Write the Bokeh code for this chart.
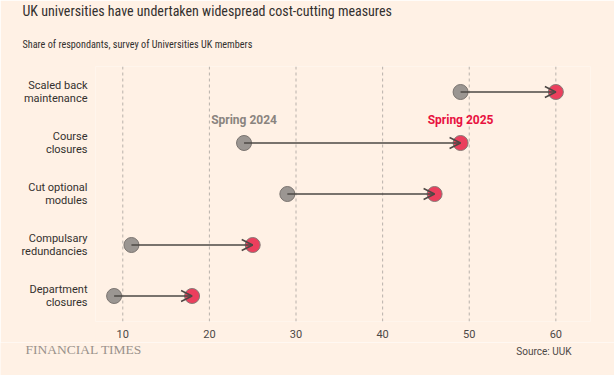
from bokeh.plotting import figure
from bokeh.layouts import column
from bokeh.models import Range1d, FixedTicker, Label, Arrow, OpenHead, ColumnDataSource, Title
from bokeh.embed import file_html
from bokeh.resources import INLINE

title = "UK universities have undertaken widespread cost-cutting measures"
subtitle = "Share of respondants, survey of Universities UK members"
source_note = "Source: UUK"
brand = "FINANCIAL TIMES"

categories = ["Scaled back\nmaintenance", "Course\nclosures", "Cut optional\nmodules",
              "Compulsary\nredundancies", "Department\nclosures"]
spring_2024 = [49, 24, 29, 11, 9]
spring_2025 = [60, 49, 46, 25, 18]
x_ticks = [10, 20, 30, 40, 50, 60]
series_names = ["Spring 2024", "Spring 2025"]

ypos = list(range(len(categories) - 1, -1, -1))

BG = "#FFF1E5"
SANS = "Roboto"
COND = "Roboto Condensed"

src = ColumnDataSource(dict(y=ypos, a=spring_2024, b=spring_2025))

y_range = Range1d(-0.5, 4.5)
p = figure(width=614, height=342, output_backend="svg", toolbar_location=None,
           x_range=Range1d(6.85, 64.0), y_range=y_range,
           min_border_left=95, min_border_right=24, min_border_top=0, min_border_bottom=21)
p.frame_align = False
p.background_fill_color = BG
p.border_fill_color = BG
p.outline_line_color = None

p.add_layout(Title(text=subtitle, align="left", offset=-73, text_font=COND,
                   text_font_size="10.2px", text_font_style="normal", text_color="#33302E",
                   standoff=34), "above")
p.add_layout(Title(text=title, align="left", offset=-73, text_font=COND,
                   text_font_size="14px", text_font_style="normal", text_color="#33302E",
                   standoff=1), "above")

# vertical dashed gridlines at the tick values
p.xgrid.grid_line_color = None
p.ygrid.grid_line_color = None
p.segment(x0=x_ticks, x1=x_ticks, y0=[y_range.start] * len(x_ticks), y1=[y_range.end] * len(x_ticks),
          line_color="#b8b1ab", line_dash="3 3", line_width=1)

p.xaxis.ticker = FixedTicker(ticks=x_ticks)
p.xaxis.axis_line_color = None
p.xaxis.major_tick_line_color = None
p.xaxis.minor_tick_line_color = None
p.xaxis.major_label_standoff = 2
p.xaxis.major_label_text_font = SANS
p.xaxis.major_label_text_font_size = "11px"
p.xaxis.major_label_text_color = "#4d4845"

p.yaxis.ticker = FixedTicker(ticks=ypos)
p.yaxis.major_label_overrides = {y: c for y, c in zip(ypos, categories)}
p.yaxis.axis_line_color = None
p.yaxis.major_tick_line_color = None
p.yaxis.minor_tick_line_color = None
p.yaxis.major_label_standoff = 2
p.yaxis.major_label_text_font = SANS
p.yaxis.major_label_text_font_size = "11px"
p.yaxis.major_label_text_line_height = 1.0
p.yaxis.major_label_text_color = "#33302E"

p.scatter("a", "y", source=src, size=15, fill_color="#9b9692", line_color="#7a7470", line_width=1)
p.scatter("b", "y", source=src, size=15, fill_color="#eb3f5d", line_color="#857a76", line_width=1)

p.add_layout(Arrow(source=src, x_start="a", y_start="y", x_end="b", y_end="y",
                   line_color="#4d4845", line_width=1.5,
                   end=OpenHead(size=11, line_color="#4d4845", line_width=1.5)))

lab_y = ypos[1] + 0.45
p.add_layout(Label(x=spring_2024[1], y=lab_y, text=series_names[0], text_align="center",
                   text_baseline="middle", text_font=SANS, text_font_size="12px",
                   text_font_style="bold", text_color="#8a847f"))
p.add_layout(Label(x=spring_2025[1], y=lab_y, text=series_names[1], text_align="center",
                   text_baseline="middle", text_font=SANS, text_font_size="12px",
                   text_font_style="bold", text_color="#e8123f"))

# footer strip
f = figure(width=614, height=33, output_backend="svg", toolbar_location=None,
           x_range=Range1d(0, 614), y_range=Range1d(0, 33),
           min_border=0, x_axis_type=None, y_axis_type=None)
f.frame_align = False
f.background_fill_color = BG
f.border_fill_color = BG
f.outline_line_color = None
f.grid.grid_line_color = None
f.add_layout(Label(x=25, y=26, text=brand, text_align="left", text_baseline="middle",
                   text_font="Liberation Serif", text_font_size="13.5px", text_color="#9a918b"))
f.add_layout(Label(x=571, y=24, text=source_note, text_align="right", text_baseline="middle",
                   text_font=SANS, text_font_size="10px", text_color="#4d4845"))

layout = column(p, f, spacing=0)
open("out.html", "w").write(file_html(layout, INLINE))
